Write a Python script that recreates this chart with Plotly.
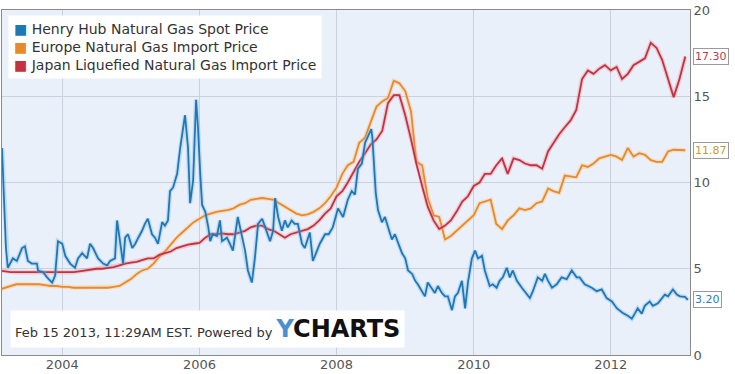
import plotly.graph_objects as go
import pandas as pd

# ---- Data ----
hh_dates = [
    "2003-02-14", "2003-03-07", "2003-03-17", "2003-04-13", "2003-05-04", "2003-06-01", "2003-06-16",
    "2003-07-02", "2003-07-23", "2003-08-19", "2003-08-25", "2003-09-21", "2003-10-12", "2003-10-28",
    "2003-11-08", "2003-11-24", "2003-12-09", "2004-01-01", "2004-01-17", "2004-02-12", "2004-03-09",
    "2004-03-25", "2004-04-16", "2004-05-12", "2004-05-28", "2004-06-13", "2004-07-10", "2004-08-06",
    "2004-08-27", "2004-09-12", "2004-10-08", "2004-10-19", "2004-11-03", "2004-11-20", "2004-12-01",
    "2004-12-16", "2005-01-08", "2005-01-24", "2005-02-09", "2005-03-01", "2005-03-16", "2005-04-01",
    "2005-04-23", "2005-05-09", "2005-05-25", "2005-06-16", "2005-07-01", "2005-07-17", "2005-07-28",
    "2005-08-13", "2005-09-04", "2005-09-20", "2005-10-16", "2005-11-01", "2005-11-12", "2005-11-28",
    "2005-12-14", "2005-12-24", "2006-01-05", "2006-01-15", "2006-02-01", "2006-02-17", "2006-02-27",
    "2006-03-13", "2006-04-04", "2006-04-20", "2006-05-01", "2006-05-27", "2006-06-12", "2006-06-28",
    "2006-07-24", "2006-08-15", "2006-09-01", "2006-09-16", "2006-10-07", "2006-10-23", "2006-11-09",
    "2006-12-01", "2006-12-16", "2007-01-12", "2007-01-28", "2007-02-08", "2007-02-24", "2007-03-16",
    "2007-04-01", "2007-04-16", "2007-05-07", "2007-05-23", "2007-06-09", "2007-07-01", "2007-07-16",
    "2007-08-12", "2007-08-28", "2007-09-18", "2007-10-04", "2007-11-01", "2007-11-20", "2007-12-12",
    "2008-01-09", "2008-02-05", "2008-03-01", "2008-03-22", "2008-04-08", "2008-04-24", "2008-05-15",
    "2008-06-01", "2008-06-16", "2008-07-04", "2008-07-10", "2008-07-28", "2008-08-09", "2008-08-30",
    "2008-09-15", "2008-10-01", "2008-10-22", "2008-11-07", "2008-11-24", "2008-12-15", "2009-01-01",
    "2009-01-16", "2009-02-07", "2009-02-23", "2009-03-09", "2009-03-30", "2009-04-16", "2009-05-01",
    "2009-05-22", "2009-06-08", "2009-06-24", "2009-07-15", "2009-08-01", "2009-08-16", "2009-09-07",
    "2009-09-23", "2009-10-09", "2009-10-30", "2009-11-16", "2009-12-01", "2009-12-22", "2010-01-08",
    "2010-01-24", "2010-02-14", "2010-03-01", "2010-03-27", "2010-04-12", "2010-05-03", "2010-05-19",
    "2010-06-05", "2010-06-26", "2010-07-12", "2010-07-28", "2010-08-19", "2010-09-14", "2010-10-11",
    "2010-10-27", "2010-11-12", "2010-12-08", "2011-01-01", "2011-01-15", "2011-02-01", "2011-02-22",
    "2011-03-19", "2011-04-14", "2011-05-11", "2011-06-07", "2011-07-03", "2011-07-19", "2011-08-15",
    "2011-09-22", "2011-10-18", "2011-11-14", "2011-12-10", "2012-01-07", "2012-02-03", "2012-03-05",
    "2012-04-01", "2012-04-22", "2012-05-08", "2012-05-23", "2012-06-14", "2012-06-30", "2012-07-26",
    "2012-08-12", "2012-09-08", "2012-09-29", "2012-10-15", "2012-11-01", "2012-11-27", "2012-12-18",
    "2013-01-04", "2013-01-30", "2013-02-15",
]
hh_values = [
    12.0, 6.2, 5.06, 5.6, 5.45, 6.2, 6.3,
    5.45, 5.3, 5.3, 4.9, 4.8, 4.5, 4.3,
    4.2, 4.6, 6.6, 6.45, 5.75, 5.3, 5.06,
    5.6, 5.9, 5.6, 6.45, 6.2, 5.6, 5.3,
    5.2, 5.45, 5.6, 7.8, 6.6, 5.3, 6.8,
    7.0, 6.2, 6.45, 6.8, 7.2, 7.6, 7.9,
    7.0, 6.8, 6.45, 7.7, 7.5, 7.8, 9.5,
    9.7, 10.5, 12.0, 13.9, 12.0, 8.8, 10.1,
    14.8, 13.2, 10.5, 8.7, 8.3, 7.4, 6.6,
    7.0, 6.9, 7.8, 6.6, 6.8, 6.45, 6.05,
    8.0, 6.8, 6.05, 4.9, 4.2, 5.6, 7.6,
    7.9, 7.4, 6.6, 7.2, 9.1, 8.0, 7.2,
    7.8, 7.4, 7.8, 7.6, 7.6, 6.45, 6.2,
    7.1, 5.45, 6.05, 6.45, 7.0, 7.0, 7.4,
    8.5, 8.0, 9.0, 9.5, 9.3, 10.8, 11.1,
    12.3, 12.7, 13.1, 12.6, 9.4, 8.4, 7.7,
    8.0, 7.4, 6.7, 7.0, 6.45, 5.9, 5.6,
    4.9, 4.7, 4.3, 4.1, 3.7, 3.4, 4.2,
    3.9, 3.6, 4.0, 3.6, 3.4, 3.4, 2.6,
    3.4, 3.6, 4.3, 2.7, 4.2, 5.6, 6.05,
    5.6, 5.75, 4.9, 4.0, 4.1, 3.9, 4.3,
    4.5, 5.06, 4.5, 4.9, 4.3, 3.9, 3.5,
    3.3, 3.7, 4.5, 4.3, 4.7, 4.3, 3.9,
    4.1, 4.5, 4.4, 4.9, 4.5, 4.5, 4.1,
    3.9, 3.7, 3.8, 3.3, 3.1, 2.7, 2.44,
    2.27, 2.1, 2.4, 2.7, 2.4, 2.85, 3.1,
    2.85, 3.0, 3.3, 3.5, 3.4, 3.8, 3.5,
    3.4, 3.37, 3.20,
]

month_dates = pd.date_range("2003-02-01", "2013-02-01", freq="MS")

europe_values = [
    3.8, 3.9, 4.0, 4.1, 4.1, 4.1, 4.1, 4.1, 4.05, 4.0, 4.0,          # 2003 Feb-Dec
    3.95, 3.95, 3.9, 3.9, 3.9, 3.9, 3.9, 3.9, 3.9, 3.95, 4.0, 4.2,   # 2004
    4.4, 4.7, 4.9, 5.0, 5.3, 5.7, 6.0, 6.4, 6.8, 7.1, 7.4, 7.7,      # 2005
    7.9, 8.1, 8.2, 8.3, 8.35, 8.4, 8.5, 8.7, 8.8, 9.0, 9.05, 9.1,    # 2006
    9.05, 9.0, 8.8, 8.6, 8.4, 8.2, 8.1, 8.15, 8.3, 8.5, 8.8, 9.2,    # 2007
    9.7, 10.5, 11.0, 11.2, 12.3, 12.6, 13.5, 14.4, 14.7, 14.9, 15.9, 15.75,  # 2008
    15.3, 14.1, 11.2, 11.0, 9.1, 8.1, 8.0, 6.7, 6.9, 7.2, 7.5, 7.8,  # 2009
    8.1, 8.8, 8.9, 9.0, 7.6, 7.3, 7.8, 8.1, 8.5, 8.4, 8.5, 8.8,      # 2010
    8.9, 9.65, 9.5, 9.4, 10.4, 10.35, 10.3, 11.0, 10.9, 11.1, 11.4, 11.5,  # 2011
    11.6, 11.5, 11.3, 12.0, 11.5, 11.7, 11.6, 11.3, 11.2, 11.2, 11.8, 11.9,  # 2012
    11.87, 11.87,                                                    # 2013 Jan-Feb
]

japan_values = [
    4.9, 4.85, 4.8, 4.8, 4.8, 4.8, 4.8, 4.8, 4.8, 4.8, 4.8,          # 2003 Feb-Dec
    4.78, 4.8, 4.8, 4.85, 4.9, 4.95, 5.0, 5.0, 5.05, 5.1, 5.2, 5.3,  # 2004
    5.35, 5.4, 5.5, 5.6, 5.6, 5.8, 5.9, 6.0, 6.2, 6.3, 6.4, 6.45,    # 2005
    6.5, 6.8, 7.0, 7.0, 7.05, 7.0, 7.0, 7.1, 7.2, 7.4, 7.5, 7.5,     # 2006
    7.3, 7.2, 7.0, 6.8, 7.0, 7.1, 7.2, 7.3, 7.5, 7.8, 8.2, 8.5,      # 2007
    9.2, 9.5, 10.0, 10.6, 11.2, 11.7, 12.2, 12.5, 13.0, 14.6, 15.06, 15.06,  # 2008
    13.9, 12.5, 11.1, 9.8, 8.6, 7.8, 7.3, 7.5, 7.8, 8.3, 8.9, 9.2,   # 2009
    9.8, 10.0, 10.5, 10.5, 11.0, 11.4, 10.5, 11.4, 11.3, 11.1, 11.0, 11.0,  # 2010
    10.8, 11.8, 12.3, 12.8, 13.2, 13.6, 14.2, 16.0, 16.5, 16.3, 16.6, 16.8,  # 2011
    16.5, 16.7, 16.0, 16.3, 16.8, 17.0, 17.2, 18.1, 17.8, 17.1, 16.0, 14.95, # 2012
    16.0, 17.30,                                                     # 2013 Jan-Feb
]

series_names = [
    "Henry Hub Natural Gas Spot Price",
    "Europe Natural Gas Import Price",
    "Japan Liquefied Natural Gas Import Price",
]
last_labels = ["3.20", "11.87", "17.30"]
y_ticks = [0, 5, 10, 15, 20]
x_ticks = ["2004-01-01", "2006-01-01", "2008-01-01", "2010-01-01", "2012-01-01"]
x_tick_text = ["2004", "2006", "2008", "2010", "2012"]

# ---- Styling ----
blue = "#1f78b4"
orange = "#e8892b"
red = "#c4323f"
colors = [blue, orange, red]
label_colors = ["#2b7db5", "#c99a2e", "#b4414a"]
font_family = "DejaVu Sans, Verdana, sans-serif"

fig = go.Figure()

series = [
    (hh_dates, hh_values, blue, "rgba(120,180,230,0.35)"),
    (month_dates, europe_values, orange, "rgba(250,200,140,0.45)"),
    (month_dates, japan_values, red, "rgba(230,150,160,0.40)"),
]
for i in [1, 2, 0]:
    xs, ys, col, glow = series[i]
    fig.add_trace(go.Scatter(x=xs, y=ys, mode="lines", line=dict(color=glow, width=4.5),
                             showlegend=False, hoverinfo="skip"))
    fig.add_trace(go.Scatter(x=xs, y=ys, mode="lines", line=dict(color=col, width=1.8),
                             name=series_names[i], showlegend=False))

# legend (square swatches + names) as a text box
legend_text = "<br>".join(
    f"<span style='color:{c}'>■</span> {n}" for c, n in zip(colors, series_names)
)
fig.add_annotation(xref="paper", yref="paper", x=0.009, y=0.986, xanchor="left", yanchor="top",
                   align="left", showarrow=False, text=legend_text, bgcolor="white", borderpad=5,
                   font=dict(family=font_family, size=14, color="#333"))

# end-value labels
for i, (vals, lab) in enumerate(zip([hh_values, europe_values, japan_values], last_labels)):
    fig.add_annotation(xref="paper", yref="y", x=1.0, y=vals[-1], xanchor="left", yanchor="middle",
                       xshift=3, text=lab, showarrow=False,
                       font=dict(family=font_family, size=11, color=label_colors[i]),
                       bgcolor="white", bordercolor="#9a9a9a", borderwidth=1, borderpad=1)

# footer credit
fig.add_annotation(xref="paper", yref="paper", x=0.012, y=0.02, xanchor="left", yanchor="bottom",
                   showarrow=False, bgcolor="white", borderpad=4,
                   text=("Feb 15 2013, 11:29AM EST. Powered by "
                         "<b><span style='font-size:24px'><span style='color:#4a90d0'>Y</span>"
                         "<span style='color:#111'>CHARTS</span></span></b>"),
                   font=dict(family=font_family, size=13, color="#333"))

fig.update_layout(
    template="none",
    width=735, height=374,
    margin=dict(l=2, r=45, t=10, b=19, autoexpand=False),
    paper_bgcolor="white",
    plot_bgcolor="#eaf0fa",
    font=dict(family=font_family, size=13, color="#555"),
    showlegend=False,
    xaxis=dict(range=["2003-02-14", "2013-02-26"], tickvals=x_ticks, ticktext=x_tick_text,
               showgrid=True, gridcolor="#c9d1de", gridwidth=1, automargin=False,
               showline=True, linecolor="#8a8a8a", linewidth=1, mirror=True,
               ticks="", ticklen=0, ticklabelstandoff=-3,
               tickfont=dict(size=13, color="#555"), zeroline=False),
    yaxis=dict(range=[0, 20], tickvals=y_ticks, side="right", automargin=False,
               showgrid=True, gridcolor="#c9d1de", gridwidth=1,
               showline=True, linecolor="#8a8a8a", linewidth=1, mirror=True,
               ticks="", ticklen=0, tickfont=dict(size=13, color="#555"), zeroline=False),
)

fig.write_html("out.html", config={"displayModeBar": False},
               post_script="document.body.style.margin='0';")
